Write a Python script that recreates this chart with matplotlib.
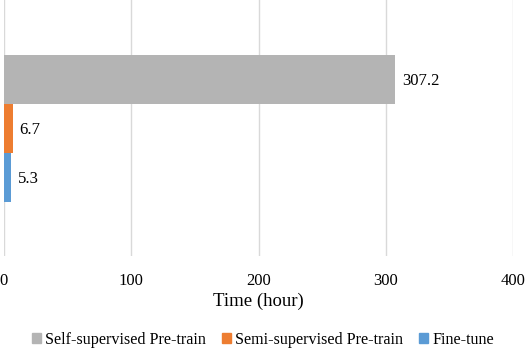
import matplotlib
matplotlib.use('Agg')
import matplotlib.pyplot as plt
from matplotlib.patches import Patch

plt.rcParams['font.family'] = ['Liberation Serif', 'DejaVu Serif']

# data
stages = ['Self-supervised Pre-train', 'Semi-supervised Pre-train', 'Fine-tune']
hours = [307.2, 6.7, 5.3]
colors = ['#B4B4B4', '#ED7D31', '#5B9BD5']
xticks = [0, 100, 200, 300, 400]

fig = plt.figure(figsize=(5.26, 3.5), dpi=100)
ax = fig.add_axes([4 / 526, 94 / 350, 509 / 526, 256 / 350])

pos = list(range(len(stages)))
ax.barh(pos, hours, height=1.0, color=colors, zorder=3)
for p, h in zip(pos, hours):
    ax.text(h + 5.5, p + 0.05, f'{h:.1f}', va='center', ha='left', fontsize=12, color='#000000')

half = 256 / 49 / 2
ax.set_ylim(1 + half, 1 - half)
ax.set_xlim(0, 400)
ax.set_xticks(xticks)
ax.set_yticks([])
ax.tick_params(axis='x', length=0, labelsize=12, pad=12)
ax.grid(axis='x', color='#D9D9D9', linewidth=1, zorder=0)
for s in ax.spines.values():
    s.set_visible(False)
ax.set_xlabel('Time (hour)', fontsize=13.5, labelpad=3)

handles = [Patch(color=c, label=s) for s, c in zip(stages, colors)]
fig.legend(handles=handles, loc='center', bbox_to_anchor=(0.5, 10 / 350), ncol=3,
           frameon=False, fontsize=11.6, handlelength=0.55, handleheight=0.55,
           handletextpad=0.25, columnspacing=1.0)

fig.savefig('out.png', dpi=100)
